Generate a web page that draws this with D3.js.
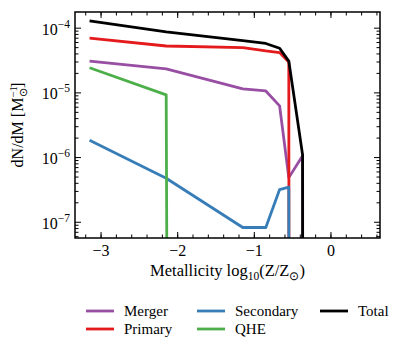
<!DOCTYPE html>
<html>
<head>
<meta charset="utf-8">
<script src="https://cdn.jsdelivr.net/npm/d3@7"></script>
<style>
  body { margin: 0; background: #fff; font-family: "Liberation Serif"; }
  #chart { position: absolute; left: 0; top: 0; }
  #warm { position: absolute; left: 0; top: 0; color: #fff; font-size: 4px; }
</style>
</head>
<body>
<span id="warm">Metallicity 10</span>
<div id="chart"></div>
<script>
// metallicity grid, log10(Z/Zsun)
const metallicity = [-3.15, -2.15, -1.15, -0.85, -0.67, -0.55, -0.37, -0.25];

// dN/dM per channel (0 = nothing formed)
const merger    = [3.1e-5, 2.35e-5, 1.15e-5, 1.07e-5, 6.3e-6, 4.9e-7, 1.07e-6, 0];
const primary   = [7.0e-5, 5.3e-5, 5.0e-5, 4.45e-5, 4.2e-5, 3.0e-5, 0, 0];
const secondary = [1.85e-6, 4.8e-7, 8.3e-8, 8.3e-8, 3.2e-7, 3.5e-7, 0, 0];
const qhe       = [2.45e-5, 9.3e-6, 0, 0, 0, 0, 0, 0];
const total     = [1.3e-4, 8.8e-5, 6.4e-5, 5.8e-5, 4.9e-5, 3.1e-5, 1.1e-6, 0];

const xTicks = [-3, -2, -1, 0];
const yTicks = [-7, -6, -5, -4];

const series = [
  { name: "Merger", values: merger, color: "#984ea3" },
  { name: "Primary", values: primary, color: "#e41a1c" },
  { name: "Secondary", values: secondary, color: "#377eb8" },
  { name: "QHE", values: qhe, color: "#4daf4a" },
  { name: "Total", values: total, color: "#000000" }
];

const serif = "Liberation Serif";

function draw() {
  const fullWidth = 406, fullHeight = 353;
  const margin = { top: 12, right: 26, bottom: 115, left: 75 };
  const width = fullWidth - margin.left - margin.right;
  const height = fullHeight - margin.top - margin.bottom;

  const svg = d3.select("#chart").append("svg")
    .attr("width", fullWidth)
    .attr("height", fullHeight)
    .attr("font-family", serif);

  const chart = svg.append("g")
    .attr("transform", `translate(${margin.left},${margin.top})`);

  const x = d3.scaleLinear().domain([-3.34, 0.64]).range([0, width]);
  const y = d3.scaleLog().domain([Math.pow(10, -7.243), Math.pow(10, -3.75)]).range([height, 0]);

  svg.append("defs").append("clipPath").attr("id", "plotClip")
    .append("rect").attr("width", width).attr("height", height);

  // === Lines === (zeros are clipped like matplotlib's log axis)
  const line = d3.line()
    .x((d) => x(d[0]))
    .y((d) => y(d[1] > 0 ? d[1] : 1e-300));

  const lines = chart.append("g").attr("clip-path", "url(#plotClip)");
  series.forEach((s) => {
    lines.append("path")
      .datum(metallicity.map((m, i) => [m, s.values[i]]))
      .attr("d", line)
      .attr("fill", "none")
      .attr("stroke", s.color)
      .attr("stroke-width", 2.8)
      .attr("stroke-linejoin", "round");
  });

  // === Ticks (inward, all four sides) ===
  const xMinor = d3.range(-3.2, 0.61, 0.2).map((v) => Math.round(v * 10) / 10);
  const yMinor = [];
  for (let e = -8; e <= -4; e++) for (let k = 2; k <= 9; k++) {
    const v = k * Math.pow(10, e);
    if (v >= y.domain()[0] && v <= y.domain()[1]) yMinor.push(v);
  }

  const ticks = chart.append("g").attr("stroke", "#000").attr("stroke-width", 1);
  function xTick(v, len) {
    ticks.append("line").attr("x1", x(v)).attr("x2", x(v)).attr("y1", height).attr("y2", height - len);
    ticks.append("line").attr("x1", x(v)).attr("x2", x(v)).attr("y1", 0).attr("y2", len);
  }
  function yTick(v, len) {
    ticks.append("line").attr("y1", y(v)).attr("y2", y(v)).attr("x1", 0).attr("x2", len);
    ticks.append("line").attr("y1", y(v)).attr("y2", y(v)).attr("x1", width).attr("x2", width - len);
  }
  xMinor.forEach((v) => xTick(v, 3.5));
  xTicks.forEach((v) => xTick(v, 6));
  yMinor.forEach((v) => yTick(v, 3.5));
  yTicks.forEach((e) => yTick(Math.pow(10, e), 6));

  chart.append("rect")
    .attr("width", width).attr("height", height)
    .attr("fill", "none").attr("stroke", "#000").attr("stroke-width", 1.5);

  // === Tick labels ===
  chart.selectAll("text.xlab").data(xTicks).enter().append("text")
    .attr("class", "xlab")
    .attr("x", (d) => x(d))
    .attr("y", height + 18)
    .attr("text-anchor", "middle")
    .attr("font-family", serif)
    .attr("font-size", 16)
    .text((d) => (d < 0 ? "\u2212" + Math.abs(d) : d));

  yTicks.forEach((e) => {
    const t = chart.append("text")
      .attr("x", -5)
      .attr("y", y(Math.pow(10, e)) + 6.5)
      .attr("text-anchor", "end")
      .attr("font-family", serif)
      .attr("font-size", 16);
    t.append("tspan").text("10");
    t.append("tspan").attr("dy", -7).attr("font-size", 11.5).text("\u2212" + Math.abs(e));
  });

  // === Axis labels ===
  const xl = svg.append("text")
    .attr("x", margin.left + width / 2)
    .attr("y", 276)
    .attr("text-anchor", "middle")
    .attr("font-family", serif)
    .attr("font-size", 16.5);
  xl.append("tspan").text("Metallicity log");
  xl.append("tspan").attr("dy", 4).attr("font-size", 11.5).text("10");
  xl.append("tspan").attr("dy", -4).text("(Z/Z");
  xl.append("tspan").attr("dy", 4).attr("font-size", 11.5).text("\u2299");
  xl.append("tspan").attr("dy", -4).text(")");

  const yl = svg.append("text")
    .attr("transform", `translate(23,${margin.top + height / 2}) rotate(-90)`)
    .attr("text-anchor", "middle")
    .attr("font-family", serif)
    .attr("font-size", 16);
  yl.append("tspan").text("dN/dM [M");
  yl.append("tspan").attr("dy", -6).attr("font-size", 11).text("\u22121");
  yl.append("tspan").attr("dy", 10).attr("dx", -11).attr("font-size", 11).text("\u2299");
  yl.append("tspan").attr("dy", -4).text("]");

  // === Legend ===
  const legendPos = [[86, 311], [86, 329], [197, 311], [197, 329], [320, 311]];
  series.forEach((s, i) => {
    const [lx, ly] = legendPos[i];
    svg.append("line")
      .attr("x1", lx).attr("x2", lx + 28)
      .attr("y1", ly).attr("y2", ly)
      .attr("stroke", s.color).attr("stroke-width", 2.8);
    svg.append("text")
      .attr("x", lx + 38).attr("y", ly + 5)
      .attr("font-family", serif)
      .attr("font-size", 15)
      .text(s.name);
  });
}

draw();
</script>
</body>
</html>
